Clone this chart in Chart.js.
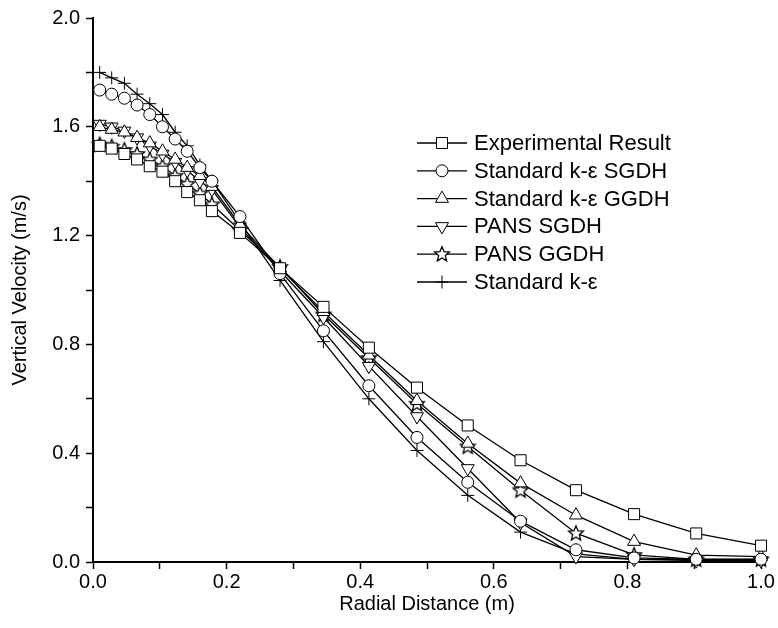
<!DOCTYPE html>
<html>
<head>
<meta charset="utf-8">
<script src="https://cdn.jsdelivr.net/npm/chart.js@4.4.1/dist/chart.umd.min.js"></script>
<style>
  body { margin: 0; background: #fff; }
  #wrap { width: 778px; height: 628px; }
</style>
</head>
<body>
<div id="wrap"><canvas id="myChart" width="778" height="628"></canvas></div>
<script>
// 半径方向の位置 (m)
const radial = [0.01, 0.028, 0.047, 0.066, 0.085, 0.104, 0.123, 0.141, 0.16, 0.178,
  0.22, 0.28, 0.345, 0.413, 0.485, 0.561, 0.64, 0.723, 0.81, 0.903, 1.0]

// 各モデルの鉛直速度 (m/s)
const experimental = [1.53, 1.52, 1.50, 1.48, 1.455, 1.435, 1.40, 1.36, 1.33, 1.29,
  1.21, 1.08, 0.938, 0.788, 0.641, 0.502, 0.374, 0.264, 0.176, 0.105, 0.06]
const keSGDH = [1.735, 1.72, 1.705, 1.68, 1.645, 1.60, 1.555, 1.51, 1.45, 1.40,
  1.27, 1.06, 0.85, 0.648, 0.458, 0.293, 0.15, 0.045, 0.015, 0.01, 0.01]
const keGGDH = [1.60, 1.59, 1.58, 1.56, 1.54, 1.51, 1.48, 1.45, 1.42, 1.38,
  1.24, 1.08, 0.92, 0.76, 0.593, 0.436, 0.29, 0.172, 0.075, 0.025, 0.02]
const pansSGDH = [1.61, 1.60, 1.585, 1.56, 1.53, 1.50, 1.47, 1.44, 1.40, 1.37,
  1.23, 1.07, 0.90, 0.72, 0.535, 0.344, 0.145, 0.02, 0.01, 0.005, 0.005]
const pansGGDH = [1.535, 1.527, 1.515, 1.50, 1.48, 1.455, 1.42, 1.39, 1.355, 1.315,
  1.22, 1.085, 0.91, 0.75, 0.582, 0.425, 0.264, 0.106, 0.026, 0.01, 0.01]
const standardKe = [1.80, 1.78, 1.76, 1.72, 1.685, 1.645, 1.58, 1.53, 1.46, 1.40,
  1.25, 1.035, 0.81, 0.60, 0.41, 0.245, 0.11, 0.03, 0.01, 0.01, 0.01]

const seriesNames = ["Experimental Result", "Standard k-ε SGDH", "Standard k-ε GGDH",
  "PANS SGDH", "PANS GGDH", "Standard k-ε"]

const FONT = "Liberation Sans, Arial, Helvetica, sans-serif"

// 五芒星のマーカー
function makeStar(r) {
  let c = document.createElement("canvas")
  c.width = 20
  c.height = 20
  let g = c.getContext("2d")
  let cx = 10
  let cy = 10.5
  g.beginPath()
  for (let i = 0; i < 10; i++) {
    let rr = i % 2 === 0 ? r : r * 0.45
    let a = -Math.PI / 2 + (i * Math.PI) / 5
    let px = cx + rr * Math.cos(a)
    let py = cy + rr * Math.sin(a)
    if (i === 0) g.moveTo(px, py)
    else g.lineTo(px, py)
  }
  g.closePath()
  g.fillStyle = "#fff"
  g.fill()
  g.strokeStyle = "#000"
  g.lineWidth = 1.3
  g.stroke()
  return c
}
const starImg = makeStar(7.8)

const styles = [
  { pointStyle: "rect", radius: 7.8, rotation: 0 },
  { pointStyle: "circle", radius: 6, rotation: 0 },
  { pointStyle: "triangle", radius: 7.5, rotation: 0 },
  { pointStyle: "triangle", radius: 7.5, rotation: 180 },
  { pointStyle: starImg, radius: 7.5, rotation: 0 },
  { pointStyle: "cross", radius: 6.5, rotation: 0 },
]

const allValues = [experimental, keSGDH, keGGDH, pansSGDH, pansGGDH, standardKe]

let datasets = allValues.map((vals, i) => {
  return {
    label: seriesNames[i],
    data: vals.map((v, j) => ({ x: radial[j], y: v })),
    showLine: true,
    borderColor: "#000",
    borderWidth: 1.3,
    backgroundColor: "#fff",
    pointBorderColor: "#000",
    pointBackgroundColor: "#fff",
    pointBorderWidth: 1,
    pointStyle: styles[i].pointStyle,
    pointRadius: styles[i].radius,
    pointRotation: styles[i].rotation,
    tension: 0,
    clip: false,
  }
})

// 凡例のマーカーを描く
function legendMarker(ctx, st, x, y) {
  ctx.save()
  ctx.strokeStyle = "#000"
  ctx.fillStyle = "#fff"
  ctx.lineWidth = 1
  let r = st.radius
  ctx.beginPath()
  if (st.pointStyle === "rect") {
    let s = r * Math.SQRT1_2
    ctx.rect(x - s, y - s, 2 * s, 2 * s)
  } else if (st.pointStyle === "circle") {
    ctx.arc(x, y, r, 0, Math.PI * 2)
  } else if (st.pointStyle === "triangle") {
    let dir = st.rotation === 180 ? -1 : 1
    ctx.moveTo(x, y - dir * r)
    ctx.lineTo(x + r * Math.sin((2 * Math.PI) / 3), y + dir * r * 0.5)
    ctx.lineTo(x - r * Math.sin((2 * Math.PI) / 3), y + dir * r * 0.5)
    ctx.closePath()
  } else if (st.pointStyle === "cross") {
    ctx.moveTo(x, y - r)
    ctx.lineTo(x, y + r)
    ctx.moveTo(x - r, y)
    ctx.lineTo(x + r, y)
    ctx.stroke()
    ctx.restore()
    return
  } else {
    ctx.drawImage(st.pointStyle, Math.round(x) - 10, Math.round(y) - 10)
    ctx.restore()
    return
  }
  ctx.fill()
  ctx.stroke()
  ctx.restore()
}

const legendPlugin = {
  id: "boxLegend",
  afterDraw(chart) {
    let ctx = chart.ctx
    ctx.save()
    ctx.font = "22px " + FONT
    ctx.textBaseline = "middle"
    ctx.fillStyle = "#000"
    seriesNames.forEach((name, i) => {
      let y = 143 + i * 27.8
      ctx.beginPath()
      ctx.strokeStyle = "#000"
      ctx.lineWidth = 1.3
      ctx.moveTo(417, y)
      ctx.lineTo(467, y)
      ctx.stroke()
      legendMarker(ctx, styles[i], 442, y)
      ctx.fillText(name, 474, y + 1)
    })
    ctx.restore()
  },
}

const ctx = document.getElementById("myChart")

new Chart(ctx, {
  type: "scatter",
  data: { datasets: datasets },
  plugins: [legendPlugin],
  options: {
    responsive: false,
    animation: false,
    devicePixelRatio: 1,
    layout: { padding: { top: 16, right: 17, left: 0, bottom: 0 } },
    plugins: {
      legend: { display: false },
      tooltip: { enabled: false },
    },
    scales: {
      x: {
        type: "linear",
        min: 0,
        max: 1,
        afterFit: (s) => {
          s.height = 66
        },
        ticks: {
          stepSize: 0.1,
          autoSkip: false,
          maxRotation: 0,
          color: "#000",
          padding: 1,
          font: { family: FONT, size: 20 },
          callback: (v) => (Math.round(v * 10) % 2 === 0 ? v.toFixed(1) : ""),
        },
        grid: {
          drawOnChartArea: false,
          color: "#000",
          tickLength: 7,
          tickWidth: 1.5,
        },
        border: { color: "#000", width: 2 },
        title: {
          display: true,
          text: "Radial Distance (m)",
          color: "#000",
          font: { family: FONT, size: 20 },
          padding: { top: 0, bottom: 12 },
        },
      },
      y: {
        type: "linear",
        min: 0,
        max: 2,
        afterFit: (s) => {
          s.width = 93
        },
        ticks: {
          stepSize: 0.2,
          autoSkip: false,
          color: "#000",
          padding: 6,
          font: { family: FONT, size: 20 },
          callback: (v) => (Math.round(v * 10) % 4 === 0 ? v.toFixed(1) : ""),
        },
        grid: {
          drawOnChartArea: false,
          color: "#000",
          tickLength: 7,
          tickWidth: 1.5,
        },
        border: { color: "#000", width: 2 },
        title: {
          display: true,
          text: "Vertical Velocity (m/s)",
          color: "#000",
          font: { family: FONT, size: 20 },
          padding: { top: 8, bottom: 0 },
        },
      },
    },
  },
})
</script>
</body>
</html>
